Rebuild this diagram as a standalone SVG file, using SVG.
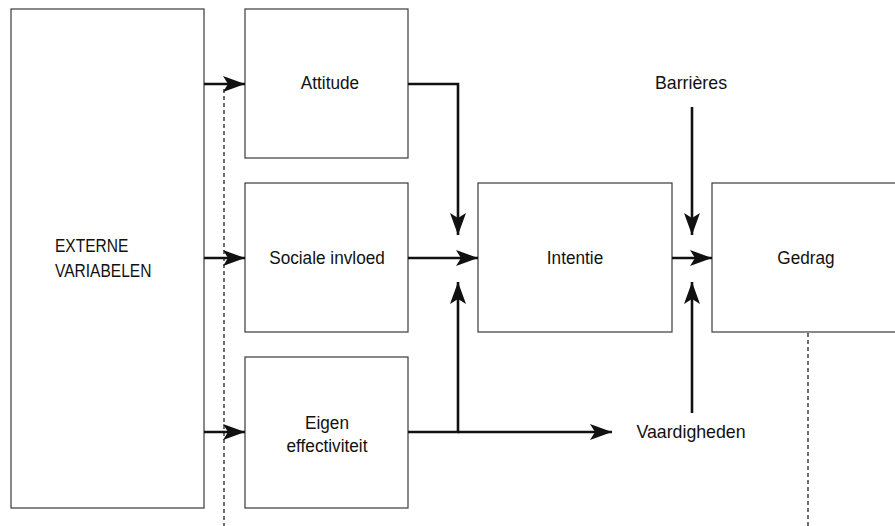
<svg xmlns="http://www.w3.org/2000/svg" width="895" height="526" viewBox="0 0 895 526">
  <style>
    .box { fill: #ffffff; stroke: #3a3a3a; stroke-width: 1.2; }
    .lbl { font-family: "Liberation Sans", Arial, sans-serif; font-size: 18.5px; fill: #111; text-anchor: middle; }
    .lbl-l { font-family: "Liberation Sans", Arial, sans-serif; font-size: 18.5px; fill: #111; text-anchor: start; }
    .flow { fill: none; stroke: #111; stroke-width: 2.6; marker-end: url(#head); }
    .dash { fill: none; stroke: #111; stroke-width: 1.2; stroke-dasharray: 4 3; }
  </style>
  <defs>
    <marker id="head" markerUnits="userSpaceOnUse" markerWidth="24" markerHeight="16" refX="22" refY="8" orient="auto">
      <path d="M0,0 L22,8 L0,16 L5,8 Z" fill="#111"/>
    </marker>
  </defs>

  <rect width="895" height="526" fill="#ffffff"/>

  <!-- labels are narrowed horizontally for a condensed face -->
  <g id="externe-variabelen">
    <rect class="box" x="11" y="9" width="193" height="499"/>
    <text class="lbl-l" transform="translate(55 252) scale(0.84 1)">EXTERNE</text>
    <text class="lbl-l" transform="translate(55 277) scale(0.84 1)">VARIABELEN</text>
  </g>

  <g id="attitude">
    <rect class="box" x="245" y="9" width="163" height="149"/>
    <text class="lbl" transform="translate(330 89) scale(0.93 1)">Attitude</text>
  </g>

  <g id="sociale-invloed">
    <rect class="box" x="245" y="183" width="163" height="149"/>
    <text class="lbl" transform="translate(327 264) scale(0.93 1)">Sociale invloed</text>
  </g>

  <g id="eigen-effectiviteit">
    <rect class="box" x="245" y="357" width="163" height="151"/>
    <text class="lbl" transform="translate(327 429) scale(0.93 1)">Eigen</text>
    <text class="lbl" transform="translate(327 452) scale(0.93 1)">effectiviteit</text>
  </g>

  <g id="intentie">
    <rect class="box" x="478" y="183" width="194" height="149"/>
    <text class="lbl" transform="translate(575 264) scale(0.93 1)">Intentie</text>
  </g>

  <g id="gedrag">
    <rect class="box" x="712" y="183" width="190" height="149"/>
    <text class="lbl" transform="translate(806 264) scale(0.93 1)">Gedrag</text>
  </g>

  <g id="barrieres">
    <text class="lbl" transform="translate(691 89) scale(0.96 1)">Barrières</text>
  </g>

  <g id="vaardigheden">
    <text class="lbl" transform="translate(691 438) scale(0.96 1)">Vaardigheden</text>
  </g>

  <g id="connectors">
    <!-- external variables feed the three determinants -->
    <path class="flow" d="M204,84 H245"/>
    <path class="flow" d="M204,258 H245"/>
    <path class="flow" d="M204,432 H245"/>
    <!-- determinants to intention -->
    <path class="flow" d="M408,84 H458 V235"/>
    <path class="flow" d="M408,258 H478"/>
    <path class="flow" d="M408,432 H458 V282"/>
    <path class="flow" d="M458,432 H612"/>
    <!-- intention to behaviour, with barriers and skills -->
    <path class="flow" d="M672,258 H712"/>
    <path class="flow" d="M692,107 V235"/>
    <path class="flow" d="M692,413 V282"/>
    <!-- feedback lines -->
    <path class="dash" d="M224,89 V526"/>
    <path class="dash" d="M808,333 V526"/>
  </g>
</svg>
